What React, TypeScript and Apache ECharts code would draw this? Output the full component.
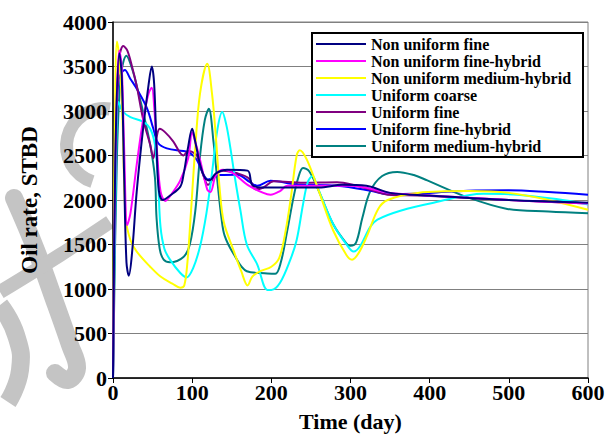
import React, { useEffect, useRef } from "react";
import * as echarts from "echarts";

const seriesNames = [
  "Non uniform fine",
  "Non uniform fine-hybrid",
  "Non uniform medium-hybrid",
  "Uniform coarse",
  "Uniform fine",
  "Uniform fine-hybrid",
  "Uniform medium-hybrid",
];

const seriesColors = ["#000080", "#ff00ff", "#ffff00", "#00ffff", "#800080", "#0000ff", "#008080"];

const xTicks = [0, 100, 200, 300, 400, 500, 600];
const yTicks = [0, 500, 1000, 1500, 2000, 2500, 3000, 3500, 4000];

const nonUniformFine = [
  [0, 0], [3, 2500], [8, 3650], [11, 3400], [14, 2300], [17, 1300], [20, 1150], [24, 1400], [30, 2100],
  [38, 2800], [45, 3300], [49, 3500], [52, 3300], [55, 2600], [58, 2100], [63, 2000], [72, 2050],
  [85, 2150], [89, 2280], [95, 2600], [100, 2800], [104, 2650], [110, 2400], [116, 2250], [122, 2220],
  [130, 2300], [144, 2340], [170, 2330], [176, 2170], [190, 2140], [260, 2140], [290, 2170], [320, 2160],
  [350, 2080], [400, 2050], [500, 2000], [600, 1970],
];

const nonUniformFineHybrid = [
  [0, 0], [3, 2400], [8, 3680], [11, 3500], [14, 2600], [18, 1720], [22, 1850], [30, 2400], [38, 2900],
  [45, 3200], [49, 3260], [52, 3050], [56, 2500], [60, 2100], [66, 1990], [75, 2080], [85, 2220],
  [95, 2470], [100, 2760], [104, 2650], [110, 2450], [119, 2120], [123, 2090], [130, 2280], [139, 2340],
  [152, 2300], [170, 2170], [190, 2080], [199, 2060], [211, 2100], [220, 2160], [245, 2160], [300, 2160],
  [350, 2080], [400, 2050], [500, 2000], [600, 1960],
];

const nonUniformMediumHybrid = [
  [0, 0], [2, 2500], [5, 3780], [8, 3600], [12, 2900], [16, 1800], [22, 1550], [30, 1420], [47, 1250],
  [60, 1140], [75, 1060], [85, 1015], [90, 1040], [94, 1300], [98, 1800], [104, 2600], [110, 3200],
  [119, 3530], [125, 3200], [130, 2700], [135, 2100], [140, 1750], [152, 1440], [162, 1200], [170, 1040],
  [176, 1140], [186, 1200], [200, 1250], [210, 1350], [218, 1650], [225, 2050], [232, 2500], [236, 2560],
  [245, 2450], [260, 2100], [278, 1660], [295, 1380], [302, 1330], [310, 1400], [321, 1600], [335, 1900],
  [347, 2000], [385, 2080], [450, 2100], [500, 2080], [550, 2000], [600, 1890],
];

const uniformCoarse = [
  [0, 0], [3, 2000], [7, 3100], [12, 3000], [22, 2930], [38, 2880], [47, 2800], [53, 2620], [57, 2200],
  [60, 1700], [65, 1450], [72, 1330], [85, 1180], [93, 1130], [101, 1230], [110, 1480], [118, 1850],
  [125, 2300], [132, 2800], [138, 2990], [143, 2850], [148, 2600], [154, 2250], [161, 1880], [169, 1500],
  [182, 1280], [195, 990], [200, 990], [211, 1070], [224, 1330], [232, 1550], [240, 1950], [246, 2200],
  [252, 2270], [258, 2150], [278, 1730], [295, 1500], [304, 1420], [312, 1480], [325, 1700], [334, 1780],
  [363, 1880], [405, 1970], [468, 2070], [511, 2060], [560, 2010], [600, 1950],
];

const uniformFine = [
  [0, 0], [4, 2800], [8, 3600], [13, 3730], [18, 3680], [24, 3500], [30, 3280], [38, 2910], [47, 2620],
  [51, 2470], [55, 2700], [59, 2800], [66, 2760], [76, 2660], [89, 2500], [95, 2550], [100, 2540],
  [106, 2500], [114, 2280], [120, 2170], [130, 2290], [139, 2330], [157, 2300], [172, 2240], [180, 2120],
  [190, 2140], [203, 2210], [241, 2195], [283, 2200], [304, 2170], [325, 2115], [347, 2060], [389, 2050],
  [500, 2000], [600, 1960],
];

const uniformFineHybrid = [
  [0, 0], [3, 2500], [7, 3350], [15, 3460], [22, 3360], [30, 3250], [43, 3030], [51, 2800], [57, 2640],
  [68, 2580], [89, 2550], [97, 2530], [106, 2450], [114, 2290], [120, 2230], [135, 2280], [157, 2285],
  [173, 2200], [182, 2160], [199, 2215], [233, 2175], [283, 2160], [325, 2105], [347, 2065], [400, 2080],
  [448, 2105], [500, 2110], [550, 2090], [600, 2060],
];

const uniformMediumHybrid = [
  [0, 0], [5, 2500], [10, 3400], [17, 3620], [25, 3450], [30, 3280], [38, 2990], [47, 2620], [53, 2250],
  [55, 1800], [59, 1450], [64, 1330], [72, 1300], [89, 1360], [97, 1500], [104, 1880], [110, 2500],
  [116, 2900], [121, 3025], [127, 2650], [132, 2200], [137, 1800], [141, 1600], [152, 1400], [169, 1200],
  [195, 1175], [205, 1170], [212, 1300], [220, 1650], [228, 2030], [234, 2250], [240, 2360], [248, 2320],
  [260, 2100], [278, 1730], [295, 1510], [300, 1485], [307, 1520], [315, 1800], [325, 2100], [340, 2270],
  [359, 2316], [380, 2280], [397, 2220], [448, 2030], [498, 1900], [550, 1870], [600, 1850],
];

const seriesData = [
  nonUniformFine,
  nonUniformFineHybrid,
  nonUniformMediumHybrid,
  uniformCoarse,
  uniformFine,
  uniformFineHybrid,
  uniformMediumHybrid,
];

const FONT = "Liberation Serif";
const WM = "#c4c4c4";

export default function App() {
  const ref = useRef<HTMLDivElement>(null);
  useEffect(() => {
    document.body.style.margin = "0";
    const chart = echarts.init(ref.current!, null, { renderer: "svg" });
    chart.setOption({
      animation: false,
      backgroundColor: "#fff",
      textStyle: { fontFamily: FONT },
      grid: {
        left: 113,
        right: 20,
        top: 22,
        bottom: 54,
        show: true,
        backgroundColor: "#fff",
        borderColor: "#808080",
        borderWidth: 1,
      },
      graphic: [
        {
          type: "sector",
          z: -10,
          silent: true,
          shape: { cx: 104, cy: 146, r: 44, r0: 31, startAngle: Math.PI * 0.6, endAngle: Math.PI * 1.55, clockwise: true },
          style: { fill: WM },
        },
        {
          type: "polyline",
          z: -10,
          silent: true,
          shape: { points: [[14, 198], [36, 250], [56, 305], [70, 345], [77, 368], [68, 380], [55, 373]], smooth: 0.4 },
          style: { stroke: WM, lineWidth: 18, fill: null, lineCap: "round" },
        },
        {
          type: "polyline",
          z: -10,
          silent: true,
          shape: { points: [[110, 222], [60, 255], [0, 292]], smooth: 0.3 },
          style: { stroke: WM, lineWidth: 14, fill: null },
        },
        {
          type: "polyline",
          z: -10,
          silent: true,
          shape: { points: [[0, 305], [16, 335], [20, 370], [8, 402]], smooth: 0.5 },
          style: { stroke: WM, lineWidth: 18, fill: null },
        },
        {
          type: "rect",
          z: 20,
          silent: true,
          shape: { x: 312, y: 33, width: 271, height: 124 },
          style: { fill: "#fff", stroke: "#000", lineWidth: 2 },
        },
      ],
      legend: {
        orient: "vertical",
        left: 316,
        top: 36,
        z: 30,
        padding: 0,
        itemWidth: 50,
        itemHeight: 12,
        itemGap: 1,
        textStyle: { fontFamily: FONT, fontWeight: "bold", fontSize: 16, color: "#000" },
        data: seriesNames.map((n) => ({ name: n, icon: "path://M0,5 L50,5 L50,7 L0,7 Z" })),
      },
      xAxis: {
        type: "value",
        min: 0,
        max: 600,
        interval: 100,
        name: "Time (day)",
        nameLocation: "middle",
        nameGap: 32,
        nameTextStyle: { fontFamily: FONT, fontWeight: "bold", fontSize: 22, color: "#000" },
        axisLine: { show: true, lineStyle: { color: "#000", width: 1.5 } },
        axisTick: { show: true, length: 5, lineStyle: { color: "#000" } },
        axisLabel: {
          fontFamily: FONT,
          fontWeight: "bold",
          fontSize: 22,
          color: "#000",
          margin: 3,
          formatter: (v: number) => String(v),
        },
        splitLine: { show: false },
      },
      yAxis: {
        type: "value",
        min: 0,
        max: 4000,
        interval: 500,
        name: "Oil rate, STBD",
        nameLocation: "middle",
        nameGap: 72,
        nameTextStyle: { fontFamily: FONT, fontWeight: "bold", fontSize: 23, color: "#000" },
        axisLine: { show: true, lineStyle: { color: "#000", width: 1.5 } },
        axisTick: { show: true, length: 5, lineStyle: { color: "#000" } },
        axisLabel: {
          fontFamily: FONT,
          fontWeight: "bold",
          fontSize: 22,
          color: "#000",
          margin: 6,
          formatter: (v: number) => String(v),
        },
        splitLine: { show: true, lineStyle: { color: "#808080", width: 1 } },
      },
      series: seriesNames.map((name, i) => ({
        name,
        type: "line",
        data: seriesData[i],
        smooth: 0.35,
        showSymbol: false,
        symbol: "none",
        lineStyle: { color: seriesColors[i], width: 2 },
        itemStyle: { color: seriesColors[i] },
        z: 2 + (6 - i),
      })),
    });
    return () => chart.dispose();
  }, []);
  return <div ref={ref} style={{ width: 608, height: 437 }} />;
}
